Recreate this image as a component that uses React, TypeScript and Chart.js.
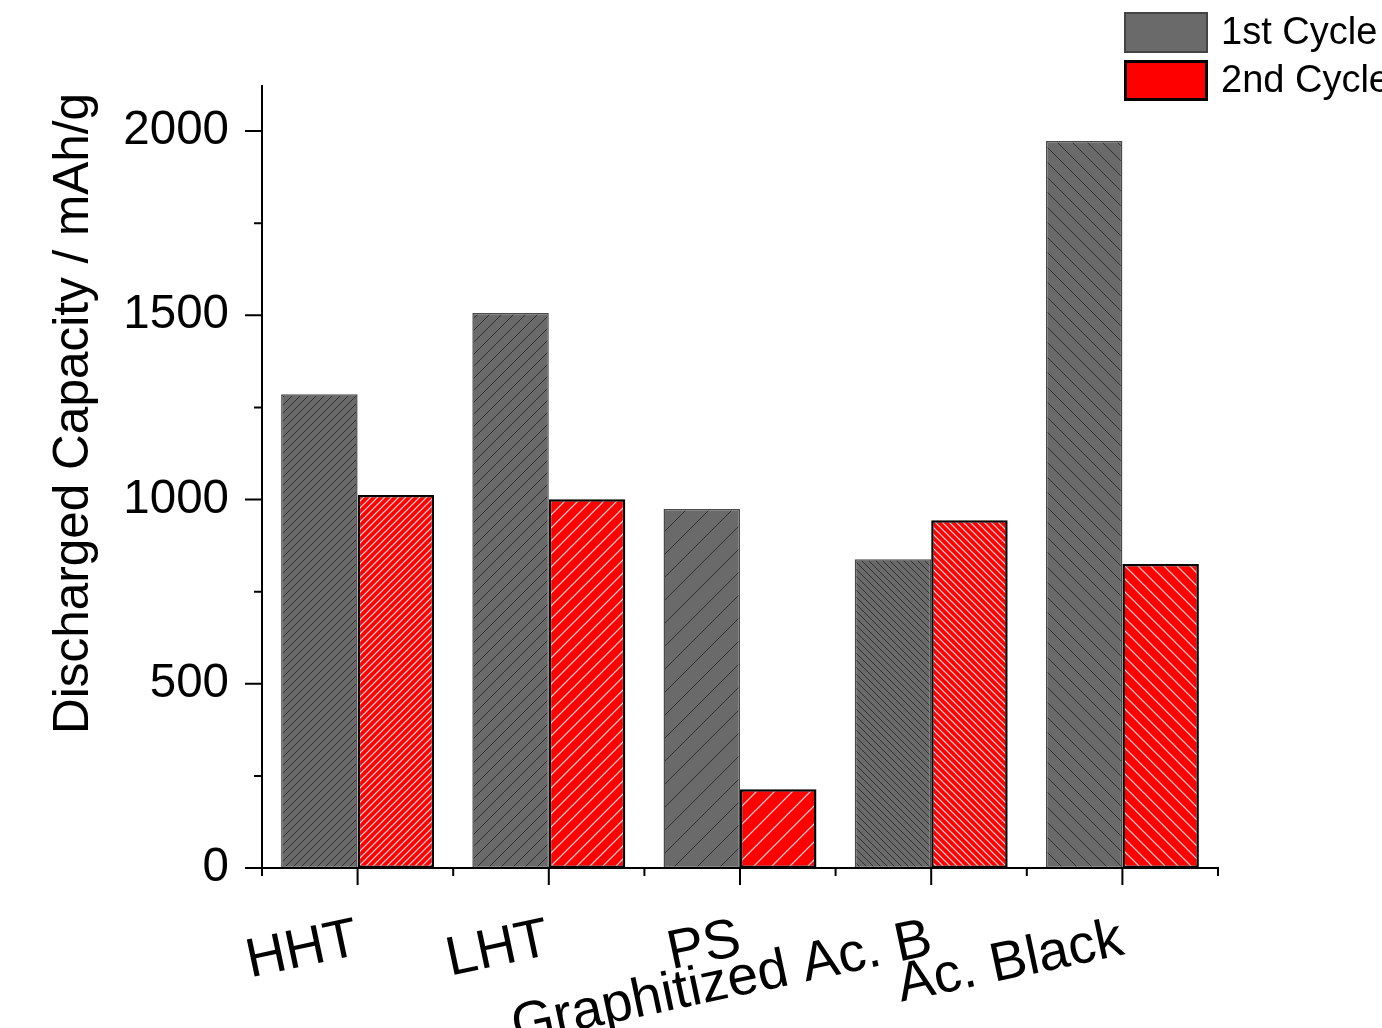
import { useEffect, useRef } from 'react';
import { Chart, registerables } from 'chart.js';

Chart.register(...registerables);

// Discharge capacity of each carbon material over the first two cycles
const categories = ['HHT', 'LHT', 'PS', 'Graphitized Ac. B', 'Ac. Black'];
const firstCycle = [1286, 1506, 974, 838, 1973];
const secondCycle = [1012, 1001, 214, 944, 825];
const seriesNames = ['1st Cycle', '2nd Cycle'];
const yMajorTicks = [0, 500, 1000, 1500, 2000];
const yMinorTicks = [250, 750, 1250, 1750];
const yAxisTitle = 'Discharged Capacity / mAh/g';

// hatch direction and line spacing (px) for each bar
const firstHatchDir = ['/', '/', '/', '\\', '\\'];
const firstHatchStep = [8, 12, 23, 7, 15];
const secondHatchDir = ['/', '/', '/', '\\', '\\'];
const secondHatchStep = [7, 13, 18, 7, 13];

const FONT = "'Liberation Sans', Arial, Helvetica, sans-serif";
const GRAY = '#6a6a6a';
const RED = '#ff0000';

function makeHatch(base: string, line: string, width: number, dir: string, step: number): CanvasPattern | string {
  const c = document.createElement('canvas');
  c.width = step;
  c.height = step;
  const g = c.getContext('2d');
  if (!g) return base;
  g.fillStyle = base;
  g.fillRect(0, 0, step, step);
  g.strokeStyle = line;
  g.lineWidth = width;
  g.beginPath();
  if (dir === '/') {
    for (const k of [0, step, 2 * step]) {
      g.moveTo(k - (step + 1), step + 1);
      g.lineTo(k + 1, -1);
    }
  } else {
    for (const k of [-step, 0, step]) {
      g.moveTo(k - 1, -1);
      g.lineTo(k + step + 1, step + 1);
    }
  }
  g.stroke();
  const p = g.createPattern(c, 'repeat');
  return p ?? base;
}

const framePlugin = {
  id: 'originFrame',
  afterDraw(chart: any) {
    const { ctx, chartArea } = chart;
    const { left, right, top, bottom } = chartArea;
    const xs = chart.scales.x;
    const ys = chart.scales.y;
    ctx.save();
    ctx.strokeStyle = '#000';
    ctx.lineWidth = 2;
    ctx.lineCap = 'butt';

    // axis lines
    ctx.beginPath();
    ctx.moveTo(left, top);
    ctx.lineTo(left, bottom + 1);
    ctx.moveTo(left - 1, bottom);
    ctx.lineTo(right + 1, bottom);
    ctx.stroke();

    // y ticks
    ctx.beginPath();
    for (const v of yMajorTicks) {
      const y = ys.getPixelForValue(v);
      ctx.moveTo(left - 17, y);
      ctx.lineTo(left, y);
    }
    for (const v of yMinorTicks) {
      const y = ys.getPixelForValue(v);
      ctx.moveTo(left - 8, y);
      ctx.lineTo(left, y);
    }
    // x ticks
    const half = (xs.getPixelForValue(1) - xs.getPixelForValue(0)) / 2;
    for (let i = 0; i < categories.length; i++) {
      const x = xs.getPixelForValue(i);
      ctx.moveTo(x, bottom);
      ctx.lineTo(x, bottom + 17);
      ctx.moveTo(x - half, bottom);
      ctx.lineTo(x - half, bottom + 8);
    }
    const xl = xs.getPixelForValue(categories.length - 1) + half;
    ctx.moveTo(xl, bottom);
    ctx.lineTo(xl, bottom + 8);
    ctx.stroke();

    // y axis title
    ctx.save();
    ctx.translate(88, 413.5);
    ctx.rotate(-Math.PI / 2);
    ctx.fillStyle = '#000';
    ctx.font = `49.5px ${FONT}`;
    ctx.textAlign = 'center';
    ctx.textBaseline = 'alphabetic';
    ctx.fillText(yAxisTitle, 0, 0);
    ctx.restore();

    // legend
    const boxX = 1124;
    const boxW = 84;
    const boxH = 41;
    const rows = [
      { y: 12, fill: GRAY, stroke: '#444', lw: 2 },
      { y: 60, fill: RED, stroke: '#000', lw: 3 },
    ];
    ctx.font = `38px ${FONT}`;
    ctx.textAlign = 'left';
    ctx.textBaseline = 'middle';
    rows.forEach((r, i) => {
      ctx.fillStyle = r.fill;
      ctx.fillRect(boxX, r.y, boxW, boxH);
      ctx.strokeStyle = r.stroke;
      ctx.lineWidth = r.lw;
      ctx.strokeRect(boxX + r.lw / 2, r.y + r.lw / 2, boxW - r.lw, boxH - r.lw);
      ctx.fillStyle = '#000';
      ctx.fillText(seriesNames[i], 1221, r.y + boxH / 2 + 1);
    });
    ctx.restore();
  },
};

export default function App() {
  const canvasRef = useRef<HTMLCanvasElement | null>(null);

  useEffect(() => {
    const canvas = canvasRef.current;
    if (!canvas) return;

    const firstFill = firstCycle.map((_, i) =>
      makeHatch(GRAY, 'rgba(30,30,30,0.75)', 1, firstHatchDir[i], firstHatchStep[i])
    );
    const secondFill = secondCycle.map((_, i) =>
      makeHatch(RED, 'rgba(255,235,235,0.95)', 1.2, secondHatchDir[i], secondHatchStep[i])
    );

    const chart = new Chart(canvas, {
      type: 'bar',
      data: {
        labels: categories,
        datasets: [
          {
            label: seriesNames[0],
            data: firstCycle,
            backgroundColor: firstFill as any,
            borderColor: '#4a4a4a',
            borderWidth: 1.5,
            borderSkipped: false,
            categoryPercentage: 0.8,
            barPercentage: 1.0,
          },
          {
            label: seriesNames[1],
            data: secondCycle,
            backgroundColor: secondFill as any,
            borderColor: '#000',
            borderWidth: 2.5,
            borderSkipped: false,
            categoryPercentage: 0.8,
            barPercentage: 1.0,
          },
        ],
      },
      options: {
        responsive: false,
        devicePixelRatio: 1,
        animation: false,
        layout: { padding: { top: 85, right: 164, left: 0, bottom: 0 } },
        plugins: {
          legend: { display: false },
          tooltip: { enabled: false },
        },
        scales: {
          x: {
            type: 'category',
            grid: { display: false },
            border: { display: false },
            ticks: {
              color: '#000',
              font: { family: FONT, size: 55 },
              minRotation: 12,
              maxRotation: 12,
              autoSkip: false,
              padding: 31,
            },
            afterFit(scale: any) {
              scale.height = 160;
              scale.paddingLeft = 0;
              scale.paddingRight = 0;
            },
          },
          y: {
            type: 'linear',
            min: 0,
            max: 2125,
            grid: { display: false },
            border: { display: false },
            afterBuildTicks(scale: any) {
              scale.ticks = yMajorTicks.map((v) => ({ value: v }));
            },
            ticks: {
              color: '#000',
              font: { family: FONT, size: 47.5 },
              padding: 25,
              callback: (v: any) => String(v),
            },
            afterFit(scale: any) {
              scale.width = 262;
            },
          },
        },
      },
      plugins: [framePlugin],
    });

    return () => chart.destroy();
  }, []);

  return (
    <div style={{ position: 'fixed', left: 0, top: 0, width: 1382, height: 1028, background: '#fff' }}>
      <canvas ref={canvasRef} width={1382} height={1028} style={{ display: 'block', width: 1382, height: 1028 }} />
    </div>
  );
}
